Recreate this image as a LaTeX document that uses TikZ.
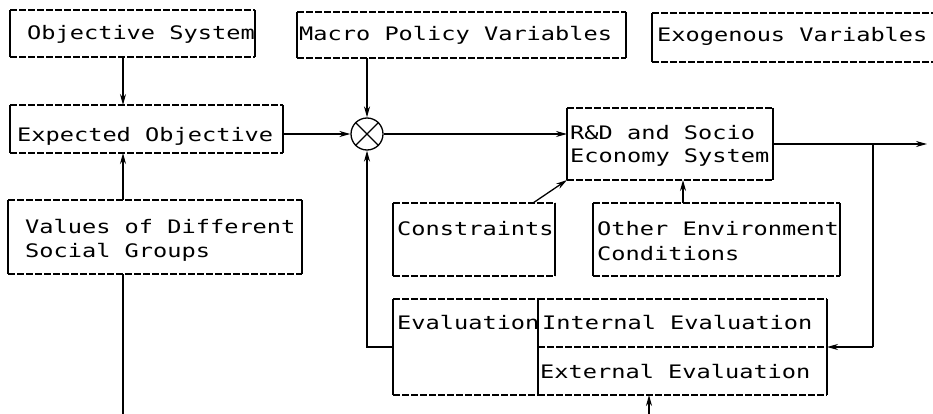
\documentclass[tikz,border=0pt]{standalone}
\usepackage{fontspec}
\newfontfamily\dotfont[FakeStretch=1.27]{DejaVu Sans Mono}
\usetikzlibrary{arrows.meta,calc}
\newcommand{\dbx}[5]{\node[dbox, anchor=north west, minimum width={#4pt-#2pt}, minimum height={#5pt-#3pt}] (#1) at (#2,#3) {};}
\newcommand{\bord}[1]{%
  \draw[dsh] (#1.north west) -- (#1.north east);
  \draw[dsh] (#1.south west) -- (#1.south east);
  \draw[sid] (#1.north west) -- (#1.south west);
  \draw[sid] (#1.north east) -- (#1.south east);}
\begin{document}
\begin{tikzpicture}[x=1pt, y=-1pt,
  dbox/.style={rectangle, inner sep=0pt, outer sep=0pt},
  lbl/.style={anchor=base west, inner sep=0pt, font=\dotfont\fontsize{18.6pt}{20pt}\selectfont},
  ln/.style={line width=1.3pt},
  arr/.style={line width=1.3pt, -{Stealth[length=11pt,width=6pt]}},
  dsh/.style={line width=1.2pt, dash pattern=on 7pt off 2pt},
  sid/.style={line width=1.1pt}]
\useasboundingbox (0,0) rectangle (933,414);

% boxes
\dbx{obj}{10}{10}{255}{57}
\dbx{mac}{297}{12}{626}{58}
\dbx{exo}{652}{13}{933}{62}
\dbx{exp}{10}{105}{283}{153}
\dbx{rd}{567}{108}{773}{180}
\dbx{con}{393}{203}{555}{276}
\dbx{oth}{593}{203}{840}{276}
\dbx{val}{8}{200}{302}{274}
\dbx{ev}{393}{299}{538}{395}
\dbx{int}{538}{299}{827}{347}
\dbx{ext}{538}{347}{827}{395}

\bord{obj}\bord{mac}\bord{exp}\bord{rd}\bord{con}\bord{oth}\bord{val}
\bord{ev}\bord{int}\bord{ext}
\draw[dsh] (exo.north west) -- (exo.north east);
\draw[dsh] (exo.south west) -- (exo.south east);
\draw[sid] (exo.north west) -- (exo.south west);

% texts
\node[lbl] (tobj) at (27,40) {Objective System};
\node[lbl] (tmac) at (299,41) {Macro Policy Variables};
\node[lbl] (texo) at (657,42) {Exogenous Variables};
\node[lbl] (texp) at (17,142) {Expected Objective};
\node[lbl] (trda) at (570,140) {R\&D and Socio};
\node[lbl] (trdb) at (570,163) {Economy System};
\node[lbl] (tcon) at (397,235) {Constraints};
\node[lbl] (totha) at (597,235) {Other Environment};
\node[lbl] (tothb) at (597,260) {Conditions};
\node[lbl] (tvala) at (25,233) {Values of Different};
\node[lbl] (tvalb) at (25,257) {Social Groups};
\node[lbl] (tev) at (397,329) {Evaluation};
\node[lbl] (tint) at (542,329) {Internal Evaluation};
\node[lbl] (text) at (540,378) {External Evaluation};

% summing junction
\node[circle, draw, line width=1.3pt, minimum size=32pt, inner sep=0pt] (c) at (367,134) {};
\draw[ln] (c.north west) -- (c.south east);
\draw[ln] (c.north east) -- (c.south west);

% helper coordinates
\coordinate (vx) at (123,0);
\coordinate (ox) at (683,0);
\coordinate (cx) at (533,0);
\coordinate (out) at (927,144);
\coordinate (fbA) at (873,144);
\coordinate (fbB) at (873,347);
\coordinate (bl) at (123,414);
\coordinate (bx) at (649,414);

% connectors
\draw[arr] (obj.south -| vx) -- (exp.north -| vx);
\draw[arr] (val.north -| vx) -- (exp.south -| vx);
\draw[ln] (val.south -| vx) -- (bl);
\draw[arr] (exp.east |- c.center) -- (c);
\draw[arr] (mac.south -| c.center) -- (c);
\draw[arr] (c) -- (c.center -| rd.west);
\draw[arr] (rd.east) -- (out);
\draw[ln] (fbA) -- (fbB);
\draw[arr] (fbB) -- (fbB -| int.east);
\draw[arr] (ev.west) -| (c);
\draw[arr] (con.north -| cx) -- (rd.south west);
\draw[arr] (oth.north -| ox) -- (rd.south -| ox);
\draw[arr] (bx) -- (bx |- ext.south);
\end{tikzpicture}
\end{document}
